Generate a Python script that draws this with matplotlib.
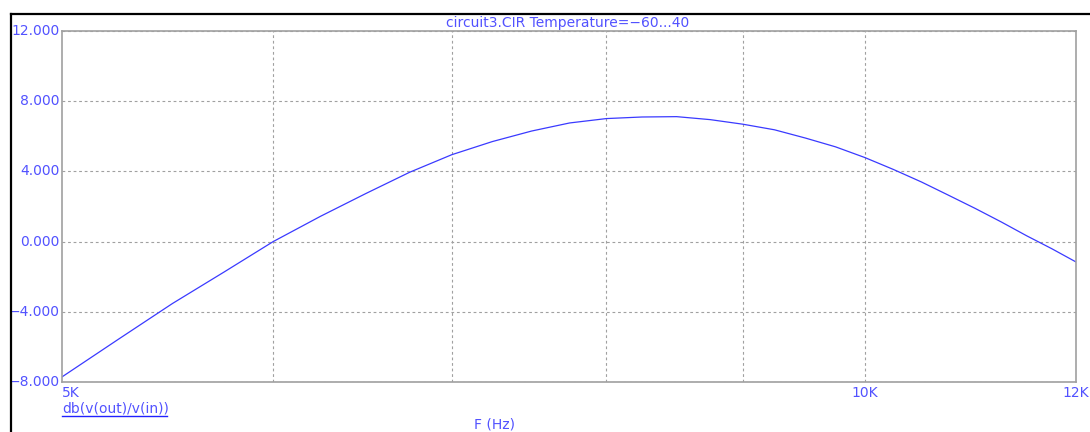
import matplotlib
matplotlib.use("Agg")
import matplotlib.pyplot as plt
from matplotlib.lines import Line2D
from matplotlib.ticker import FixedLocator, NullLocator

# Data
freq_hz = [5000, 5250, 5500, 5750, 6000, 6250, 6500, 6750, 7000, 7250,
           7500, 7750, 8000, 8250, 8500, 8750, 9000, 9250, 9500, 9750,
           10000, 10250, 10500, 10750, 11000, 11250, 11500, 11750, 12000]
gain_db = [-7.71, -5.56, -3.53, -1.74, 0.0, 1.44, 2.74, 3.95, 4.95, 5.70,
           6.30, 6.76, 7.01, 7.10, 7.12, 6.95, 6.69, 6.37, 5.90, 5.40,
           4.79, 4.11, 3.40, 2.64, 1.89, 1.12, 0.33, -0.40, -1.16]

y_ticks = [-8, -4, 0, 4, 8, 12]
y_tick_labels = ["−8.000", "−4.000", "0.000", "4.000", "8.000", "12.000"]
x_grid = [6000, 7000, 8000, 9000, 10000]
x_labels = {5000: "5K", 10000: "10K", 12000: "12K"}

title = "circuit3.CIR Temperature=−60...40"
trace_name = "db(v(out)/v(in))"
x_title = "F (Hz)"

TXT = "#5252ff"
LINE = "#3a3aff"
GRID = "#a0a0a0"

W, H = 1090, 432
fig = plt.figure(figsize=(W / 100, H / 100), dpi=100)
fig.patch.set_facecolor("white")

ax = fig.add_axes([62 / W, 1 - 382 / H, (1076 - 62) / W, (382 - 31) / H])
ax.set_xscale("log")
ax.set_xlim(5000, 12000)
ax.set_ylim(-8, 12)

ax.plot(freq_hz, gain_db, color=LINE, lw=0.9)

for s in ax.spines.values():
    s.set_color(GRID)
    s.set_linewidth(1.2)

ax.xaxis.set_major_locator(FixedLocator(x_grid))
ax.xaxis.set_minor_locator(NullLocator())
ax.yaxis.set_major_locator(FixedLocator(y_ticks))
ax.set_xticklabels([])
ax.set_yticklabels([])
ax.tick_params(length=0)
ax.grid(True, color=GRID, lw=0.8, linestyle=(0, (2.5, 2.5)))

fs = 10
fam = ["DejaVu Sans"]
for v, lab in zip(y_ticks, y_tick_labels):
    ax.text(-0.002, v, lab, transform=ax.get_yaxis_transform(), ha="right",
            va="center", color=TXT, fontsize=fs, family=fam)

for f, lab in x_labels.items():
    ha = "left" if f == 5000 else "center"
    ax.text(f, -0.012, lab, transform=ax.get_xaxis_transform(), ha=ha,
            va="top", color=TXT, fontsize=fs, family=fam)

fig.text(568 / W, 1 - 22.5 / H, title, ha="center", va="center", color=TXT,
         fontsize=fs, family=fam)
fig.text(62 / W, 1 - 408 / H, trace_name, ha="left", va="center", color=TXT,
         fontsize=fs, family=fam)
fig.add_artist(Line2D([62 / W, 167 / W], [1 - 415.5 / H, 1 - 415.5 / H],
                      color="#2020ff", lw=1.0))
fig.text(494 / W, 1 - 425 / H, x_title, ha="center", va="center", color=TXT,
         fontsize=fs, family=fam)

# window border (top and left)
fig.add_artist(Line2D([10.5 / W, 1], [1 - 13.5 / H, 1 - 13.5 / H],
                      color="black", lw=1.6))
fig.add_artist(Line2D([10.5 / W, 10.5 / W], [0, 1 - 13.5 / H],
                      color="black", lw=1.6))

fig.savefig("out.png", dpi=100, facecolor="white")
